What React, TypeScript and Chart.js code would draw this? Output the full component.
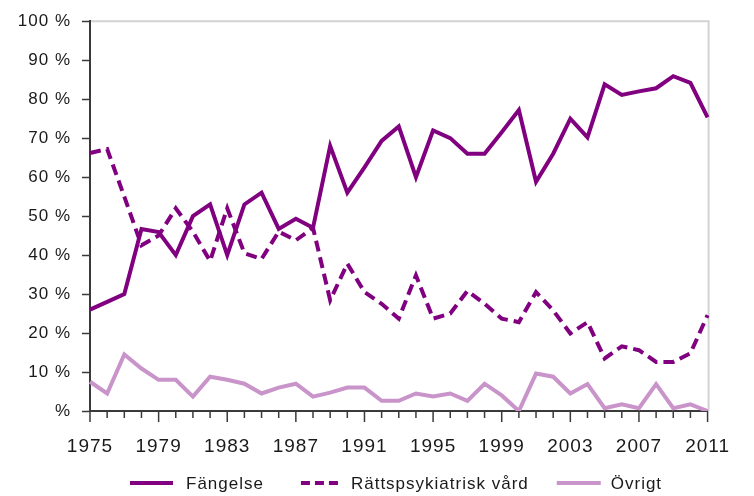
import React, { useEffect, useRef } from 'react';
import { Chart, registerables } from 'chart.js';

Chart.register(...registerables);

const years = [
  '1975', '1976', '1977', '1978', '1979', '1980', '1981', '1982', '1983', '1984',
  '1985', '1986', '1987', '1988', '1989', '1990', '1991', '1992', '1993', '1994',
  '1995', '1996', '1997', '1998', '1999', '2000', '2001', '2002', '2003', '2004',
  '2005', '2006', '2007', '2008', '2009', '2010', '2011',
];

const fangelse = [
  26, 28, 30, 46.7, 45.9, 40, 50, 53, 40, 53,
  56, 46.7, 49.3, 47, 68, 56, 62.5, 69.3, 73, 60,
  72, 70, 66, 66, 71.5, 77.2, 58.8, 66, 75, 70.2,
  83.8, 81.1, 82, 82.8, 85.9, 84.2, 75.3,
];

const rattspsyk = [
  66.2, 67.2, 55, 42.5, 45, 52, 46, 38.5, 52, 40.5,
  39, 46, 43.8, 47, 28.4, 37.8, 30.5, 27.5, 23.7, 34.8,
  23.7, 25, 30.8, 27.5, 23.7, 22.8, 30.5, 25.8, 19.9, 22.8,
  13.5, 16.6, 15.6, 12.6, 12.6, 14.8, 24.6,
];

const ovrigt = [
  7.5, 4.5, 14.5, 10.9, 8, 8, 3.7, 8.8, 8, 7,
  4.5, 6, 7, 3.7, 4.7, 6, 6, 2.6, 2.6, 4.5,
  3.7, 4.5, 2.6, 7, 4, 0, 9.6, 8.8, 4.5, 6.9,
  0.7, 1.7, 0.7, 6.9, 0.7, 1.7, 0,
];

const seriesLabels = ['Fängelse', 'Rättspsykiatrisk vård', 'Övrigt'];
const yTickValues = [0, 10, 20, 30, 40, 50, 60, 70, 80, 90, 100];

const PURPLE = '#800080';
const LIGHT = '#c994c9';
const AXIS = '#3a3a3a';
const FRAME = '#d2d2d2';
const TEXT = '#1a1a1a';
const FAMILY = '"Liberation Sans", Arial, Helvetica, sans-serif';

// legend geometry: [sample length, gap to text, gap after text]
const legendLayout = [
  [43, 13, 37],
  [40, 10, 28],
  [44, 10, 0],
];

export default function App() {
  const ref = useRef<HTMLCanvasElement>(null);

  useEffect(() => {
    if (!ref.current) return;

    const setSpacing = (chart: any) => {
      (chart.ctx as any).letterSpacing = '1px';
    };

    const decor = {
      id: 'decor',
      beforeLayout: setSpacing,
      beforeDraw: setSpacing,
      beforeDatasetsDraw(chart: any) {
        const { ctx, chartArea } = chart;
        ctx.save();
        ctx.strokeStyle = FRAME;
        ctx.lineWidth = 2;
        ctx.beginPath();
        ctx.moveTo(chartArea.left + 1, chartArea.top);
        ctx.lineTo(chartArea.right + 1, chartArea.top);
        ctx.lineTo(chartArea.right + 1, chartArea.bottom);
        ctx.stroke();
        ctx.restore();
      },
      afterDraw(chart: any) {
        const { ctx, chartArea } = chart;
        const xs = chart.scales.x;
        ctx.save();
        // x-axis tick marks: longer at labelled years
        ctx.strokeStyle = AXIS;
        ctx.lineWidth = 1.5;
        xs.ticks.forEach((_t: any, i: number) => {
          const px = xs.getPixelForTick(i);
          const len = i % 4 === 0 ? 11 : 7;
          ctx.beginPath();
          ctx.moveTo(px, chartArea.bottom);
          ctx.lineTo(px, chartArea.bottom + len);
          ctx.stroke();
        });

        // legend
        (ctx as any).letterSpacing = '1px';
        ctx.font = `17px ${FAMILY}`;
        ctx.textBaseline = 'middle';
        ctx.textAlign = 'left';
        const y = chart.height - 13;
        let x = chartArea.left + 40;
        chart.data.datasets.forEach((ds: any, i: number) => {
          const [len, gap, after] = legendLayout[i];
          ctx.strokeStyle = ds.borderColor;
          ctx.lineWidth = 4;
          ctx.setLineDash(ds.borderDash ? [9, 5] : []);
          ctx.beginPath();
          ctx.moveTo(x, y);
          ctx.lineTo(x + len, y);
          ctx.stroke();
          ctx.setLineDash([]);
          x += len + gap;
          ctx.fillStyle = TEXT;
          ctx.fillText(ds.label, x, y + 1);
          x += ctx.measureText(ds.label).width + after;
        });
        ctx.restore();
      },
    };

    const chart = new Chart(ref.current, {
      type: 'line',
      data: {
        labels: years,
        datasets: [
          {
            label: seriesLabels[0],
            data: fangelse,
            borderColor: PURPLE,
            backgroundColor: PURPLE,
            borderWidth: 4,
            pointRadius: 0,
            tension: 0,
            fill: false,
          },
          {
            label: seriesLabels[1],
            data: rattspsyk,
            borderColor: PURPLE,
            backgroundColor: PURPLE,
            borderWidth: 4,
            borderDash: [11, 6],
            pointRadius: 0,
            tension: 0,
            fill: false,
          },
          {
            label: seriesLabels[2],
            data: ovrigt,
            borderColor: LIGHT,
            backgroundColor: LIGHT,
            borderWidth: 4,
            pointRadius: 0,
            tension: 0,
            fill: false,
          },
        ],
      },
      options: {
        animation: false,
        responsive: false,
        layout: { padding: { top: 20, right: 25, left: 0, bottom: 0 } },
        plugins: {
          legend: { display: false },
          tooltip: { enabled: false },
        },
        scales: {
          x: {
            type: 'category',
            offset: false,
            grid: { display: false, drawTicks: false },
            border: { display: true, color: AXIS, width: 2 },
            ticks: {
              autoSkip: false,
              maxRotation: 0,
              padding: 24,
              color: TEXT,
              font: { family: FAMILY, size: 19 },
              callback: (_v: any, i: number) => (i % 4 === 0 ? years[i] : ''),
            },
            afterFit: (s: any) => {
              s.height = 85;
            },
          },
          y: {
            min: yTickValues[0],
            max: yTickValues[yTickValues.length - 1],
            grid: {
              drawOnChartArea: false,
              drawTicks: true,
              tickLength: 8,
              tickColor: AXIS,
              tickWidth: 1.5,
            },
            border: { display: true, color: AXIS, width: 2 },
            afterBuildTicks: (s: any) => {
              s.ticks = yTickValues.map((v) => ({ value: v }));
            },
            ticks: {
              padding: 11,
              color: TEXT,
              font: { family: FAMILY, size: 17 },
              callback: (v: any) => (v === 0 ? '%' : `${v} %`),
            },
            afterFit: (s: any) => {
              s.width = 90;
            },
          },
        },
      },
      plugins: [decor],
    } as any);

    return () => chart.destroy();
  }, []);

  return (
    <div style={{ position: 'absolute', left: 0, top: 0, width: 754, height: 496, background: '#fff' }}>
      <canvas ref={ref} width={754} height={496} style={{ display: 'block' }} />
    </div>
  );
}
